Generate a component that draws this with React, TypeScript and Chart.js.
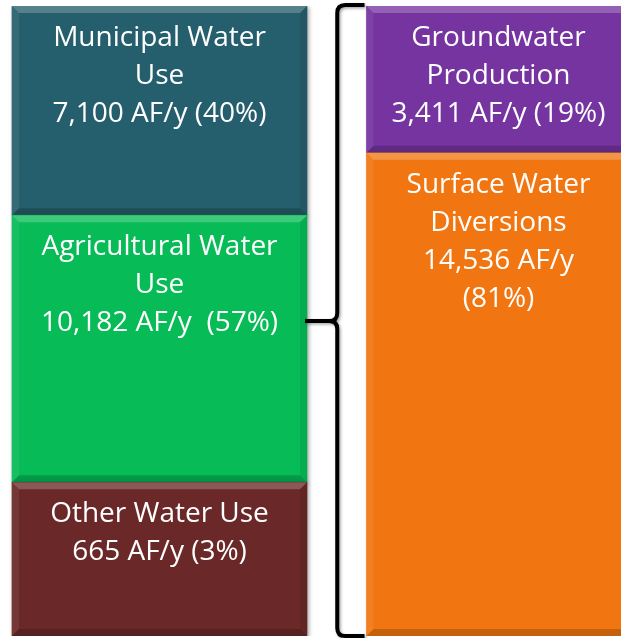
import React, { useEffect, useRef } from "react";
import { Chart, registerables } from "chart.js";

Chart.register(...registerables);

// Two columns: water use (demand) and water supply
const columns = ["Water Use", "Water Supply"];

// Water use blocks, bottom to top
const useCategories = ["Other Water Use", "Agricultural Water Use", "Municipal Water Use"];
const useVolumes = [665, 10182, 7100]; // AF/y
const usePercents = [3, 57, 40];
const useShownShare = [24.4, 42.4, 33.2]; // % of column height as drawn in the diagram
const useLabelLines = [
  ["Other Water Use", "665 AF/y (3%)"],
  ["Agricultural Water", "Use", "10,182 AF/y  (57%)"],
  ["Municipal Water", "Use", "7,100 AF/y (40%)"],
];
const useColors = ["#6A2928", "#07BB57", "#255E6C"];

// Water supply blocks, bottom to top
const supplyCategories = ["Surface Water Diversions", "Groundwater Production"];
const supplyVolumes = [14536, 3411]; // AF/y
const supplyPercents = [81, 19];
const supplyShownShare = [76.7, 23.3];
const supplyLabelLines = [
  ["Surface Water", "Diversions", "14,536 AF/y", "(81%)"],
  ["Groundwater", "Production", "3,411 AF/y (19%)"],
];
const supplyColors = ["#F17611", "#7534A0"];

const FONT = "'Open Sans', Lato, sans-serif";

export default function App() {
  const ref = useRef<HTMLCanvasElement | null>(null);

  useEffect(() => {
    if (!ref.current) return;

    const datasets: any[] = [];
    useCategories.forEach((c, i) => {
      datasets.push({
        label: c,
        data: [useShownShare[i], null],
        backgroundColor: useColors[i],
        barThickness: 295,
        lines: useLabelLines[i],
        volume: useVolumes[i],
        pct: usePercents[i],
        col: 0,
      });
    });
    supplyCategories.forEach((c, i) => {
      datasets.push({
        label: c,
        data: [null, supplyShownShare[i]],
        backgroundColor: supplyColors[i],
        barThickness: 264,
        lines: supplyLabelLines[i],
        volume: supplyVolumes[i],
        pct: supplyPercents[i],
        col: 1,
      });
    });

    const blockPlugin = {
      id: "blocks",
      beforeDatasetsDraw(chart: any) {
        const ctx = chart.ctx;
        ctx.save();
        ctx.shadowColor = "rgba(0,0,0,0.35)";
        ctx.shadowBlur = 4;
        ctx.shadowOffsetX = 1.5;
        ctx.shadowOffsetY = 1.5;
      },
      afterDatasetsDraw(chart: any) {
        const ctx = chart.ctx;
        ctx.restore();
        const b = 7;
        chart.data.datasets.forEach((ds: any, di: number) => {
          const meta = chart.getDatasetMeta(di);
          meta.data.forEach((el: any, idx: number) => {
            if (ds.data[idx] == null) return;
            const { x, y, base, width } = el.getProps(["x", "y", "base", "width"], true);
            const l = x - width / 2;
            const r = x + width / 2;
            const t = Math.min(y, base);
            const bt = Math.max(y, base);
            const poly = (pts: number[][], fill: string) => {
              ctx.beginPath();
              ctx.moveTo(pts[0][0], pts[0][1]);
              for (let k = 1; k < pts.length; k++) ctx.lineTo(pts[k][0], pts[k][1]);
              ctx.closePath();
              ctx.fillStyle = fill;
              ctx.fill();
            };
            poly([[l, t], [r, t], [r - b, t + b], [l + b, t + b]], "rgba(255,255,255,0.22)");
            poly([[l, t], [l + b, t + b], [l + b, bt - b], [l, bt]], "rgba(255,255,255,0.07)");
            poly([[r, t], [r, bt], [r - b, bt - b], [r - b, t + b]], "rgba(0,0,0,0.08)");
            poly([[l, bt], [r, bt], [r - b, bt - b], [l + b, bt - b]], "rgba(0,0,0,0.18)");

            ctx.save();
            ctx.fillStyle = "#FFFFFF";
            ctx.textAlign = "center";
            ctx.textBaseline = "middle";
            ctx.font = `28px ${FONT}`;
            (ds.lines as string[]).forEach((line, li) => {
              ctx.fillText(line, x, t + 32 + li * 38);
            });
            ctx.restore();
          });
        });
      },
      afterDraw(chart: any) {
        const ctx = chart.ctx;
        const area = chart.chartArea;
        let leftRight = -Infinity;
        let rightLeft = Infinity;
        chart.data.datasets.forEach((ds: any, di: number) => {
          const meta = chart.getDatasetMeta(di);
          meta.data.forEach((el: any, idx: number) => {
            if (ds.data[idx] == null) return;
            const { x, width } = el.getProps(["x", "width"], true);
            if (ds.col === 0) leftRight = Math.max(leftRight, x + width / 2);
            else rightLeft = Math.min(rightLeft, x - width / 2);
          });
        });
        const xm = (leftRight + rightLeft) / 2 + 0.5;
        const xe = rightLeft - 2;
        const xs = leftRight - 2;
        const top = area.top - 1;
        const bot = area.bottom;
        const mid = (area.top + area.bottom) / 2;
        const rr = 8;
        ctx.save();
        ctx.shadowColor = "rgba(0,0,0,0.35)";
        ctx.shadowBlur = 3;
        ctx.shadowOffsetX = 1.5;
        ctx.shadowOffsetY = 1.5;
        ctx.strokeStyle = "#000000";
        ctx.lineWidth = 4;
        ctx.lineJoin = "round";
        ctx.beginPath();
        ctx.moveTo(xe, top);
        ctx.lineTo(xm + rr, top);
        ctx.quadraticCurveTo(xm, top, xm, top + rr);
        ctx.lineTo(xm, mid - rr);
        ctx.quadraticCurveTo(xm, mid, xm - rr, mid);
        ctx.lineTo(xs, mid);
        ctx.moveTo(xm - rr, mid);
        ctx.quadraticCurveTo(xm, mid, xm, mid + rr);
        ctx.lineTo(xm, bot - rr);
        ctx.quadraticCurveTo(xm, bot, xm + rr, bot);
        ctx.lineTo(xe, bot);
        ctx.stroke();
        ctx.restore();
      },
    };

    const chart = new Chart(ref.current, {
      type: "bar",
      data: { labels: columns, datasets },
      options: {
        animation: false,
        responsive: false,
        devicePixelRatio: 1,
        layout: { padding: { top: 6, bottom: 2, left: 0, right: 0 } },
        plugins: { legend: { display: false }, tooltip: { enabled: false } },
        scales: {
          x: { display: false, stacked: true, grid: { display: false } },
          y: { display: false, stacked: true, min: 0, max: 100, grid: { display: false } },
        },
      },
      plugins: [blockPlugin],
    } as any);

    return () => chart.destroy();
  }, []);

  return (
    <div
      style={{
        position: "fixed",
        left: 0,
        top: 0,
        width: 621,
        height: 638,
        overflow: "hidden",
        background: "#FFFFFF",
      }}
    >
      <canvas
        ref={ref}
        width={678}
        height={638}
        style={{ position: "absolute", left: -10, top: 0, width: 678, height: 638 }}
      />
    </div>
  );
}
